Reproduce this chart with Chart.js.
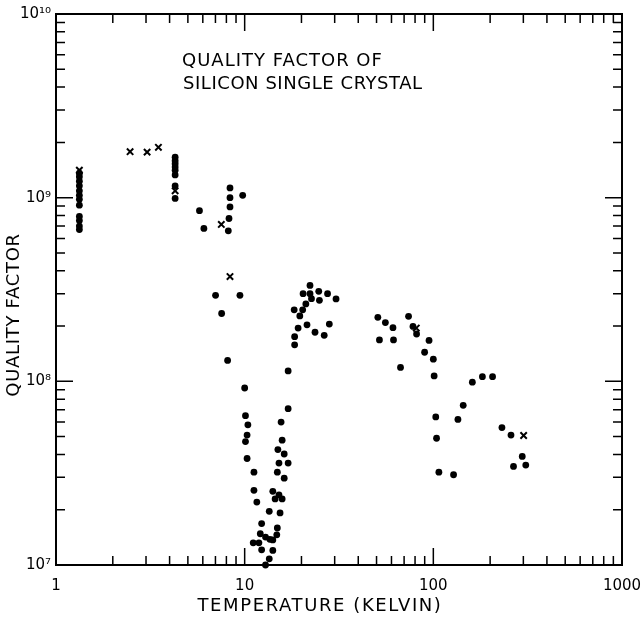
<!DOCTYPE html>
<html>
<head>
<meta charset="utf-8">
<style>
  html, body { margin: 0; padding: 0; background: #fff; }
  #wrap { width: 641px; height: 618px; }
</style>
</head>
<body>
<div id="wrap"><canvas id="qChart"></canvas></div>
<script src="https://cdn.jsdelivr.net/npm/chart.js@4.4.1/dist/chart.umd.min.js"></script>
<script>
// solid dots: temperature (K) and quality factor
const dotTemps = [
    1.33, 1.33, 1.33, 1.33, 1.33, 1.33, 1.33, 1.33, 1.33, 1.33, 1.33, 1.33,
    4.28, 4.28, 4.28, 4.28, 4.28, 4.28, 4.28, 4.28,
    5.76, 6.08, 8.36, 8.36, 8.36, 8.26, 8.19, 9.76, 7.01, 9.44, 7.55, 8.12,
    10.0, 10.1, 10.4, 10.3, 10.1, 10.3, 11.2, 11.2, 11.6, 12.3, 12.1, 11.1, 11.9,
    12.3, 12.9, 13.6, 14.1, 13.5, 12.9, 14.1, 14.8, 14.9, 13.5, 15.4, 14.1, 14.5,
    15.2, 15.8, 14.9, 16.2, 15.2, 17.0, 15.0, 16.2, 15.8, 15.6, 17.0, 17.0,
    22.2, 20.4, 22.2, 24.7, 27.5, 30.5, 22.6, 24.9, 21.1, 20.3, 18.3, 19.6,
    21.4, 19.2, 18.4, 18.4, 23.6, 26.4, 28.1,
    50.8, 55.7, 61.1, 51.8, 61.5, 73.9, 78.0, 81.5, 94.9, 89.9, 100, 101, 67.0,
    161, 182, 206, 144, 135, 103, 104, 107, 128, 231, 258, 296, 266, 309
];
const dotQ = [
    1.36e9, 1.30e9, 1.23e9, 1.16e9, 1.09e9, 1.03e9, 9.8e8, 9.1e8, 7.9e8, 7.5e8, 7.0e8, 6.7e8,
    1.66e9, 1.59e9, 1.53e9, 1.47e9, 1.41e9, 1.33e9, 1.16e9, 9.9e8,
    8.5e8, 6.8e8, 1.13e9, 1.0e9, 8.9e8, 7.7e8, 6.6e8, 1.03e9, 2.94e8, 2.94e8, 2.34e8, 1.30e8,
    9.2e7, 6.5e7, 5.8e7, 5.1e7, 4.7e7, 3.8e7, 3.2e7, 2.55e7, 2.2e7, 1.68e7, 1.48e7, 1.32e7, 1.32e7,
    1.21e7, 1.42e7, 1.38e7, 1.20e7, 1.08e7, 1.0e7, 1.37e7, 1.46e7, 1.59e7, 1.96e7, 1.92e7, 2.52e7, 2.29e7,
    2.41e7, 2.29e7, 3.2e7, 2.97e7, 3.59e7, 3.59e7, 4.25e7, 4.02e7, 4.78e7, 6.0e7, 7.1e7, 1.14e8,
    3.33e8, 3.0e8, 3.0e8, 3.09e8, 3.0e8, 2.81e8, 2.82e8, 2.76e8, 2.64e8, 2.45e8, 2.45e8, 2.27e8,
    2.03e8, 1.95e8, 1.75e8, 1.58e8, 1.85e8, 1.78e8, 2.05e8,
    2.23e8, 2.09e8, 1.96e8, 1.68e8, 1.68e8, 2.26e8, 1.99e8, 1.81e8, 1.67e8, 1.44e8, 1.32e8, 1.07e8, 1.19e8,
    9.9e7, 1.06e8, 1.06e8, 7.4e7, 6.2e7, 6.4e7, 4.9e7, 3.2e7, 3.1e7, 5.6e7, 5.1e7, 3.9e7, 3.44e7, 3.5e7
];

// crosses
const crossTemps = [1.33, 2.47, 3.04, 3.49, 4.28, 7.52, 8.36, 81.2, 301];
const crossQ = [1.41e9, 1.78e9, 1.77e9, 1.88e9, 1.09e9, 7.15e8, 3.72e8, 1.95e8, 5.07e7];

// axes
const xDecades = [1, 10, 100, 1000];
const yDecades = [1e7, 1e8, 1e9, 1e10];
const minorSteps = [2, 3, 4, 5, 6, 7, 8, 9];
const supDigits = { '0': '\u2070', '1': '\u00b9', '7': '\u2077', '8': '\u2078', '9': '\u2079' };

const xTitle = 'TEMPERATURE (KELVIN)';
const yTitle = 'QUALITY FACTOR';
const noteLines = ['QUALITY FACTOR OF', 'SILICON SINGLE CRYSTAL'];

const fontFamily = "'DejaVu Sans', sans-serif";

const toPoints = (xs, ys) => xs.map((x, i) => ({ x, y: ys[i] }));

const logTicks = (decades) => {
    const ticks = [];
    decades.forEach((d, i) => {
        ticks.push({ value: d });
        if (i < decades.length - 1) {
            minorSteps.forEach((m) => ticks.push({ value: d * m }));
        }
    });
    return ticks;
};

const superscript = (value) => {
    const exp = String(Math.round(Math.log10(value)));
    return '10' + exp.split('').map((c) => supDigits[c]).join('');
};

// frame, inward ticks, note and axis titles
const framePlugin = {
    id: 'framePlugin',
    afterDraw(chart) {
        const { ctx, chartArea: a, scales: { x, y } } = chart;
        ctx.save();
        ctx.strokeStyle = '#000';
        ctx.lineWidth = 2;
        ctx.strokeRect(a.left, a.top, a.right - a.left, a.bottom - a.top);

        ctx.lineWidth = 1.5;
        ctx.beginPath();
        x.ticks.forEach((t) => {
            const px = x.getPixelForValue(t.value);
            const len = xDecades.includes(t.value) ? 17 : 9;
            ctx.moveTo(px, a.bottom);
            ctx.lineTo(px, a.bottom - len);
            ctx.moveTo(px, a.top);
            ctx.lineTo(px, a.top + len);
        });
        y.ticks.forEach((t) => {
            const py = y.getPixelForValue(t.value);
            const len = yDecades.includes(t.value) ? 17 : 9;
            ctx.moveTo(a.left, py);
            ctx.lineTo(a.left + len, py);
            ctx.moveTo(a.right, py);
            ctx.lineTo(a.right - len, py);
        });
        ctx.stroke();

        ctx.fillStyle = '#000';
        ctx.font = '18px ' + fontFamily;
        ctx.textBaseline = 'middle';
        ctx.textAlign = 'left';
        ctx.letterSpacing = '1px';
        ctx.fillText(noteLines[0], a.left + 126, a.top + 47);
        ctx.letterSpacing = '0.55px';
        ctx.fillText(noteLines[1], a.left + 127, a.top + 70);

        ctx.textAlign = 'center';
        ctx.letterSpacing = '1.6px';
        ctx.fillText(xTitle, 320, 606);

        ctx.letterSpacing = '0.7px';
        ctx.translate(14, 315);
        ctx.rotate(-Math.PI / 2);
        ctx.fillText(yTitle, 0, 0);
        ctx.restore();
    }
};

new Chart(document.getElementById('qChart'), {
    type: 'scatter',
    data: {
        datasets: [{
            label: 'dots',
            data: toPoints(dotTemps, dotQ),
            pointStyle: 'circle',
            pointRadius: 3.4,
            backgroundColor: '#000',
            borderWidth: 0,
            clip: false
        }, {
            label: 'crosses',
            data: toPoints(crossTemps, crossQ),
            pointStyle: 'crossRot',
            pointRadius: 4.5,
            borderColor: '#000',
            borderWidth: 2,
            clip: false
        }]
    },
    options: {
        responsive: true,
        maintainAspectRatio: false,
        animation: false,
        layout: { padding: { top: 14, right: 19, left: 0, bottom: 0 } },
        plugins: {
            legend: { display: false },
            tooltip: { enabled: false }
        },
        scales: {
            x: {
                type: 'logarithmic',
                min: 1,
                max: 1000,
                grid: { display: false },
                border: { display: false },
                ticks: {
                    autoSkip: false,
                    maxRotation: 0,
                    padding: 4,
                    color: '#000',
                    font: { family: fontFamily, size: 15 },
                    callback: (v) => (xDecades.includes(v) ? String(v) : '')
                },
                afterBuildTicks: (scale) => { scale.ticks = logTicks(xDecades); },
                afterFit: (scale) => {
                    scale.height = 53;
                    scale.paddingLeft = 0;
                    scale.paddingRight = 0;
                }
            },
            y: {
                type: 'logarithmic',
                min: 1e7,
                max: 1e10,
                grid: { display: false },
                border: { display: false },
                ticks: {
                    autoSkip: false,
                    padding: -3,
                    color: '#000',
                    font: { family: fontFamily, size: 15 },
                    callback: (v) => (yDecades.includes(v) ? superscript(v) : '')
                },
                afterBuildTicks: (scale) => { scale.ticks = logTicks(yDecades); },
                afterFit: (scale) => {
                    scale.width = 56;
                    scale.paddingTop = 0;
                    scale.paddingBottom = 0;
                }
            }
        }
    },
    plugins: [framePlugin]
});
</script>
</body>
</html>
